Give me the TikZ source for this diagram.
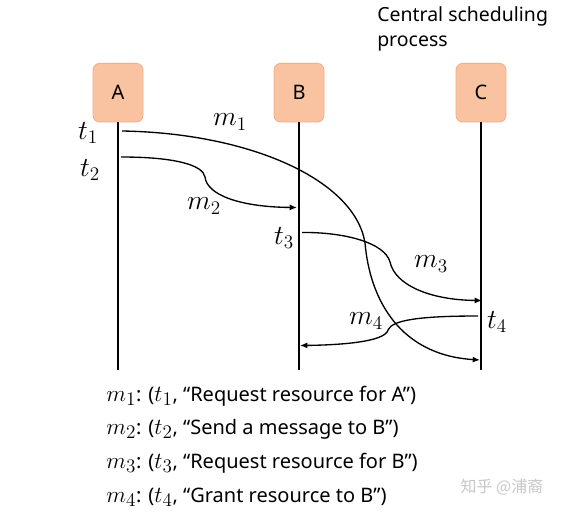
\documentclass[tikz,border=0pt]{standalone}
\usepackage{fontspec}
\setmainfont{Noto Sans}
\newfontfamily\cjk{Noto Sans CJK SC}
\usetikzlibrary{arrows.meta}
\definecolor{boxfill}{HTML}{F9C3A2}
\definecolor{boxedge}{HTML}{F3AE88}
\definecolor{wm}{HTML}{C8C8C8}
\newcommand\mth[1]{{\fontsize{19}{20}\selectfont$#1$}}
\begin{document}
\begin{tikzpicture}[x=0.75pt,y=-0.75pt,
  proc/.style={rectangle, rounded corners=5pt, fill=boxfill, draw=boxedge, line width=0.6pt,
    minimum width=37.5pt, minimum height=44pt, inner sep=0pt, font=\fontsize{15}{18}\selectfont},
  life/.style={line width=1pt},
  msg/.style={line width=1pt, -{Latex[length=5.5pt,width=4.5pt]}},
  lab/.style={font=\fontsize{20}{22}\selectfont, inner sep=0pt},
  legend/.style={font=\fontsize{15}{18}\selectfont, anchor=west, inner sep=0pt}]
\useasboundingbox[fill=white] (0,0) rectangle (561,511);
\node[anchor=north west, align=left, inner sep=0pt, font=\fontsize{14.6}{19}\selectfont] (cs) at (377,6.5) {Central scheduling\\process};
\node[proc] (A) at (118,92.7) {A};
\node[proc] (B) at (299,92.7) {B};
\node[proc] (C) at (481,92.7) {C};
\coordinate (Ae) at (118,370);
\coordinate (Be) at (299,370);
\coordinate (Ce) at (481,370);
\draw[life] (A.south) -- (Ae);
\draw[life] (B.south) -- (Be);
\draw[life] (C.south) -- (Ce);
% message end points
\coordinate (m1s) at (122,131);
\coordinate (m1e) at (480,360);
\coordinate (m2s) at (121,157);
\coordinate (m2e) at (297,207.5);
\coordinate (m3s) at (302,232.5);
\coordinate (m3e) at (482,300.5);
\coordinate (m4s) at (478,316);
\coordinate (m4e) at (300,345.5);
\draw[msg] (m1s) .. controls (250,133) and (355,180) .. (365,243)
  .. controls (370,300) and (400,355) .. (m1e);
\draw[msg] (m2s) .. controls (175,157) and (203,165) .. (205,177)
  .. controls (207,195) and (240,207) .. (m2e);
\draw[msg] (m3s) .. controls (345,232) and (385,243) .. (390,262)
  .. controls (395,285) and (430,300) .. (m3e);
\draw[msg] (m4s) .. controls (420,316) and (392,320) .. (388,330)
  .. controls (385,342) and (340,345) .. (m4e);
% labels
\node[lab] (lm1) at (230,122) {$m_1$};
\node[lab] (lt1) at (88,133) {$t_1$};
\node[lab] (lt2) at (90,170) {$t_2$};
\node[lab] (lm2) at (204,206) {$m_2$};
\node[lab] (lt3) at (284,238) {$t_3$};
\node[lab] (lm3) at (431,264) {$m_3$};
\node[lab] (lm4) at (366,321) {$m_4$};
\node[lab] (lt4) at (497,322) {$t_4$};
% legend
\node[legend] (l1) at (106,396) {\mth{m_1}: (\mth{t_1}, “Request resource for A”)};
\node[legend] (l2) at (106,429) {\mth{m_2}: (\mth{t_2}, “Send a message to B”)};
\node[legend] (l3) at (106,463) {\mth{m_3}: (\mth{t_3}, “Request resource for B”)};
\node[legend] (l4) at (106,497) {\mth{m_4}: (\mth{t_4}, “Grant resource to B”)};
\node[font=\cjk\fontsize{12}{14}\selectfont, text=wm, inner sep=0pt] (w) at (502,487) {知乎 @浦裔};
\end{tikzpicture}
\end{document}
